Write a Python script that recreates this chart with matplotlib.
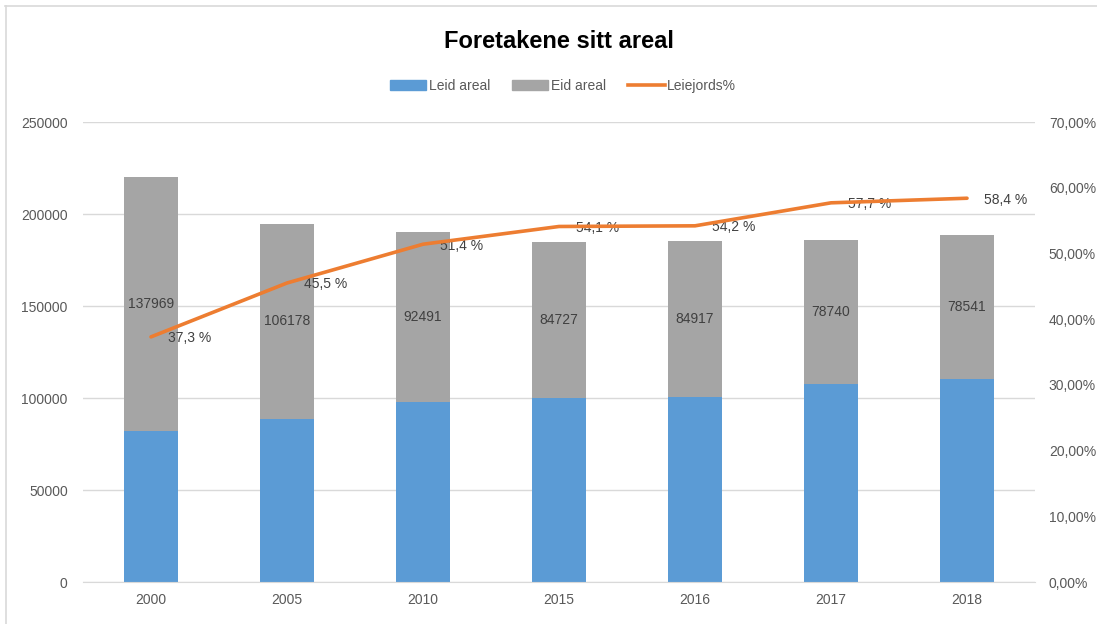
import matplotlib.pyplot as plt
from matplotlib.lines import Line2D
import numpy as np

years = ['2000', '2005', '2010', '2015', '2016', '2017', '2018']
leid_areal = [82100, 88600, 97800, 99900, 100500, 107400, 110300]
eid_areal = [137969, 106178, 92491, 84727, 84917, 78740, 78541]
leiejord_pct = [37.3, 45.5, 51.4, 54.1, 54.2, 57.7, 58.4]

BLUE = '#5B9BD5'
GRAY = '#A5A5A5'
ORANGE = '#ED7D31'
TEXT = '#595959'
GRID = '#D9D9D9'

plt.rcParams['font.family'] = ['Liberation Sans', 'DejaVu Sans']


def fmt_pct(v, decimals):
  return f'{v:.{decimals}f}'.replace('.', ',')


def plot_chart():
  fig = plt.figure(figsize=(10.97, 6.24), dpi=100)
  ax = fig.add_axes([83 / 1097, 42 / 624, 952 / 1097, 460 / 624])
  ax2 = ax.twinx()

  x = np.arange(len(years))
  w = 0.4
  ax.bar(x, leid_areal, w, color=BLUE, zorder=2)
  ax.bar(x, eid_areal, w, bottom=leid_areal, color=GRAY, zorder=2)

  for xi, lo, hi in zip(x, leid_areal, eid_areal):
    ax.text(xi, lo + hi / 2, str(hi), ha='center', va='center',
            fontsize=10, color='#404040', zorder=3)

  ax.set_xlim(-0.5, len(years) - 0.5)
  ax.set_ylim(0, 250000)
  ax.set_yticks(range(0, 250001, 50000))
  ax.set_xticks(x)
  ax.set_xticklabels(years)
  ax.grid(axis='y', color=GRID, linewidth=1, zorder=0)
  ax.set_axisbelow(True)

  ax2.plot(x, leiejord_pct, color=ORANGE, linewidth=2.6,
           solid_capstyle='round', zorder=4)
  for xi, p in zip(x, leiejord_pct):
    ax2.annotate(fmt_pct(p, 1) + ' %', (xi, p), xytext=(12, -1),
                 textcoords='offset points', ha='left', va='center',
                 fontsize=10, color='#404040')
  ax2.set_ylim(0, 70)
  ax2.set_yticks(range(0, 71, 10))
  ax2.set_yticklabels([fmt_pct(v, 2) + '%' for v in range(0, 71, 10)])

  for a in (ax, ax2):
    for s in a.spines.values():
      s.set_visible(False)
    a.tick_params(length=0, labelsize=10, colors=TEXT)
  ax.spines['bottom'].set_visible(True)
  ax.spines['bottom'].set_color(GRID)
  ax.tick_params(axis='y', pad=11)
  ax.tick_params(axis='x', pad=8)
  ax2.tick_params(axis='y', pad=10)

  fig.text(559 / 1097, 1 - 42 / 624, 'Foretakene sitt areal', ha='center',
           va='center', fontsize=17, fontweight='bold', color='black')

  handles = [
    plt.Rectangle((0, 0), 1, 1, color=BLUE),
    plt.Rectangle((0, 0), 1, 1, color=GRAY),
    Line2D([0], [0], color=ORANGE, linewidth=2.6),
  ]
  fig.legend(handles, ['Leid areal', 'Eid areal', 'Leiejords%'],
             loc='center', bbox_to_anchor=(563 / 1097, 1 - 86 / 624),
             ncol=3, frameon=False, fontsize=10, labelcolor=TEXT,
             handlelength=2.6, handleheight=0.7, handletextpad=0.2,
             columnspacing=1.6)

  # thin chart border at top and left
  fig.add_artist(Line2D([5 / 1097, 1], [1 - 6 / 624, 1 - 6 / 624],
                        color='#D9D9D9', linewidth=1.2))
  fig.add_artist(Line2D([6 / 1097, 6 / 1097], [0, 1 - 6 / 624],
                        color='#D9D9D9', linewidth=1.2))

  fig.savefig('out.png', dpi=100)


def main():
  plot_chart()


if __name__ == '__main__':
  main()
